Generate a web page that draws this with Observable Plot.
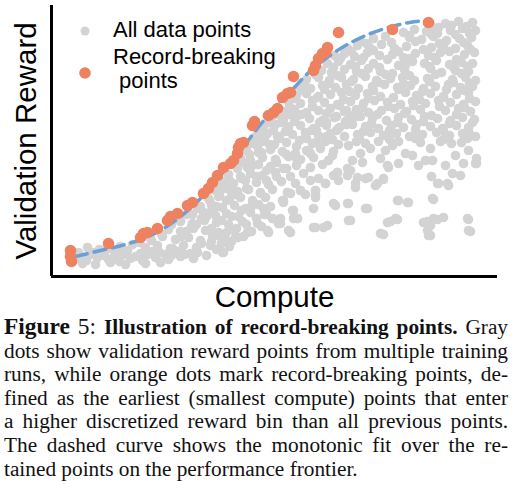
<!DOCTYPE html>
<html><head><meta charset="utf-8">
<script src="https://cdn.jsdelivr.net/npm/d3@7"></script>
<script src="https://cdn.jsdelivr.net/npm/@observablehq/plot@0.6"></script>
<style>
body{margin:0;background:#fff;width:525px;}
#wrap{position:relative;width:525px;height:310px;}
#legend{position:absolute;left:0;top:0;pointer-events:none;}
#caption{font-family:"Liberation Serif",serif;font-size:21.3px;line-height:23.6px;margin:5px 0 0 4px;width:504px;color:#111;}
.ln{text-align:justify;text-align-last:justify;}
.ln.last{text-align-last:left;}
.fig{font-weight:bold;font-size:1.1em;}
.fn{font-size:1.1em;}
</style></head>
<body>
<div id="wrap"><div id="chart"></div>
<svg id="legend" width="525" height="310" font-family="Liberation Sans, Arial, sans-serif" font-size="22">
<circle cx="85" cy="31" r="4.5" fill="#d3d3d3"/>
<text x="113" y="37" fill="#000">All data points</text>
<circle cx="85" cy="73" r="5.8" fill="#ee8260"/>
<text x="113" y="64" fill="#000">Record-breaking</text>
<text x="113" y="88" fill="#000" xml:space="preserve"> points</text>
</svg></div>
<div id="caption">
<div class="ln"><span class="fig">Figure</span> <span class="fn">5:</span> <b>Illustration of record-breaking points.</b> Gray</div>
<div class="ln">dots show validation reward points from multiple training</div>
<div class="ln">runs, while orange dots mark record-breaking points, de-</div>
<div class="ln">fined as the earliest (smallest compute) points that enter</div>
<div class="ln">a higher discretized reward bin than all previous points.</div>
<div class="ln">The dashed curve shows the monotonic fit over the re-</div>
<div class="ln last">tained points on the performance frontier.</div>
</div>
<script>
// Axis labels
const xLabel = "Compute";
const yLabel = "Validation Reward";

// All data points: [compute, validation reward] (arbitrary units)
const grayPoints = [
[394,253],[407,255],[421,254],[387,249],
[352,244],[363,247],[375,245],[386,243],[399,246],[411,248],[424,246],
[309,235],[322,238],[334,240],[358,239],[370,237],[382,240],[395,236],[408,238],[420,239],
[296,228],[306,231],[318,229],[330,232],[343,228],[355,230],[380,229],[392,231],[404,228],[416,231],
[283,221],[293,223],[303,220],[316,224],[328,221],[341,222],[352,219],[364,223],[377,221],[389,224],[413,222],[423,224],
[276,213],[287,215],[299,212],[310,216],[322,213],[347,211],[361,215],[373,213],[385,216],[398,212],[410,214],[421,213],
[270,206],[280,204],[293,207],[305,205],[317,208],[329,205],[341,203],[353,207],[379,208],[390,204],[404,206],[417,205],
[255,197],[267,199],[278,196],[290,199],[302,197],[314,200],[325,196],[339,198],[351,199],[363,196],[376,198],[401,197],[414,199],[424,196],
[248,190],[259,188],[271,191],[284,189],[295,192],[307,188],[321,190],[333,192],[346,189],[359,191],[372,188],[384,190],[397,192],[409,189],[421,190],
[245,181],[255,183],[267,180],[279,182],[290,184],[304,181],[316,183],[329,180],[354,184],[365,181],[379,183],[392,180],[405,182],[417,184],
[237,175],[249,173],[261,176],[273,174],[286,172],[299,175],[312,173],[323,176],[336,174],[349,172],[361,175],[374,173],[387,176],[399,174],[412,172],[424,175],
[232,165],[243,167],[255,164],[267,166],[279,168],[293,165],[305,167],[317,164],[330,166],[343,168],[355,165],[369,167],[394,166],[407,168],[419,165],
[220,159],[232,157],[245,160],[258,158],[271,156],[283,159],[297,157],[309,160],[321,158],[335,156],[347,159],[360,157],[373,160],[386,158],[399,156],[411,159],[423,157],
[212,150],[224,152],[237,149],[249,151],[262,148],[275,151],[288,149],[301,152],[314,150],[327,148],[340,151],[352,149],[365,152],[379,150],[391,148],[405,151],[417,149],
[205,141],[216,143],[228,140],[241,142],[254,144],[267,141],[279,143],[293,140],[306,142],[319,144],[332,141],[345,143],[358,140],[371,142],[385,144],[398,141],[411,143],[424,140],
[380,250],[400,251],[415,250],
[358,241],[380,242],[404,242],[418,243],
[315,233],[340,234],[364,235],[388,233],[412,234],
[300,225],[322,226],[347,225],[372,227],[398,225],[419,227],
[289,218],[312,219],[336,217],[358,218],[383,219],[405,217],
[282,209],[304,210],[328,209],[354,211],[378,210],[402,209],[416,210],
[264,202],[286,201],[310,203],[334,202],[358,201],[384,202],[410,203],
[253,194],[277,193],[300,195],[327,194],[352,193],[378,195],[402,194],[418,193],
[252,186],[273,187],[298,185],[322,186],[347,187],[371,185],[395,187],[413,186],
[243,178],[266,179],[292,177],[317,178],[342,179],[368,177],[392,179],[418,178],
[238,170],[261,170],[288,171],[311,169],[337,170],[362,171],[388,170],[413,169],
[226,162],[250,162],[275,163],[302,161],[326,162],[353,163],[380,161],[405,162],
[218,154],[243,155],[268,154],[294,155],[320,153],[346,154],[372,155],[398,153],[421,154],
[210,146],[234,145],[260,146],[286,147],[312,145],[338,146],[364,147],[392,146],[417,145],
[202,137],[228,138],[254,139],[281,137],[308,138],[338,137],[364,138],[392,137],[416,138],
[199,133],[211,135],[223,132],[235,134],[248,136],[261,133],[274,135],[287,132],
[195,126],[207,124],[219,127],[231,125],[244,123],[257,126],[269,128],[282,125],
[189,118],[199,116],[211,119],[224,117],[237,120],[249,117],[262,119],[277,116],
[185,111],[196,109],[207,112],[219,110],[232,108],[245,111],[259,109],[271,112],[286,104],
[177,102],[189,100],[199,103],[211,101],[224,104],[239,100],[252,103],[267,98],[282,101],
[171,95],[182,93],[194,96],[205,94],[217,92],[230,95],[244,93],[259,96],[274,93],
[164,86],[175,88],[186,85],[197,87],[209,84],[221,87],[236,84],[249,86],[264,86],
[157,78],[167,80],[178,77],[189,79],[201,76],[214,79],[232,76],[254,82],[264,79],
[149,70],[160,72],[171,69],[183,71],[194,68],[207,72],[219,70],[241,66],
[141,62],[152,64],[164,61],[175,63],[187,60],[199,64],[213,62],[229,58],[246,58],
[129,55],[141,53],[153,56],[165,54],[177,52],[191,55],[206,53],[221,58],
[117,47],[129,45],[142,48],[154,46],[167,44],[181,47],[196,44],
[99,38],[111,40],[124,37],[137,39],[149,36],[161,40],[174,37],[186,39],
[69,30],[81,32],[94,29],[106,31],[119,28],[132,31],[145,29],[159,31],
[36,29],[48,27],[58,28],
[27,24],[39,22],[51,25],[64,23],[76,26],[89,23],[101,25],[114,22],[127,25],[139,23],[171,24],
[25,18],[35,16],[46,19],[57,17],[68,15],[79,18],[91,16],[104,19],[117,17],[129,20],[142,18],
[31,13],[44,12],[59,14],[74,12],[94,13],[109,14],
[30,20],[42,24],[53,21],[62,19],[72,22],[84,20],[96,22],[108,24],[120,21],[133,22],[146,24],[155,21],[165,27],[178,30],
[150,33],[160,35],[170,33],[180,35],[192,40],[200,45],[210,50],[185,48],[175,44],[195,52],[205,58],[215,62],
[160,48],[170,56],[180,60],[190,66],[200,70],[135,45],[145,52],[155,60],[165,70],[175,76],[185,82],[195,88],
[205,100],[215,106],[225,114],[235,122],[245,130],[255,138],[265,146],[275,154],[285,160],[295,166],
[215,96],[225,100],[235,108],[245,118],[255,126],[265,134],[275,140],[285,146],[295,152],[305,160],
[120,52],[135,62],[146,68],[158,76],[170,90],[178,96],[186,108],[192,114],[198,122],[206,130],[213,138],[222,146],[230,154],[238,162],
[110,42],[100,36],[88,34],[130,40],[140,50],[150,58],[160,66],[168,82],[180,84],[190,98],[200,110],[210,124],[218,132],[226,140],[236,150],
[121,28],[184,39],[216,46],[227,53],[237,46],[242,58],[262,68],[262,49],[272,49],[282,73],[296,73],[297,56],[314,68],[329,43],[336,54],
[344,58],[346,76],[356,74],[372,54],[376,46],[377,41],[382,58],[392,59],[381,78],[416,58],[417,46],[212,68],[209,83],[236,84],[231,76],
[242,66],[239,44],[264,81],[274,93],[287,96],[304,93],[296,108],[306,99],[317,99],[326,93],[332,98],[336,111],[347,113],[386,93],[396,93],
[401,103],[409,101],[425,113],
[341,131],[319,128],[309,123],[354,123],[361,121],[400,133],[417,126],[404,121],[329,118],[374,116],[381,116],[425,118],[337,109],[367,111],
[394,111],[412,113],[424,113],[299,106],[380,100],[314,98],[332,97],[304,89],[324,91],[387,93],[397,91],[347,76],[357,74],[382,77],[297,73],
[316,68],[299,56],[339,55],[346,57],[376,55],[379,51],[386,57],[417,57],[332,42],[379,41],[419,45],
[297,131],[305,135],[314,133],[327,135],[334,126],[301,116],[311,114],[347,135],[369,134],[379,128],[389,135],[410,134],[296,101],
[259,123],[281,121],[286,104],[264,86],[249,86],[239,83],[232,74],[214,66],[221,58],[229,53],[246,58],[217,44],[264,49],[276,51],[284,71],
[172,24],[186,39],[166,41]
];

// Record-breaking points
const recordCompute = [19,19,20,57,89,92,96,106,116,119,126,136,141,152,157,161,166,172,179,182,186,187,189,192,201,203,217,222,226,231,236,239,242,262,264,267,271,274,276,287,341,377];
const recordReward  = [26,20,15,33,39,43,44,48,56,60,63,71,74,83,88,94,101,109,113,116,123,129,133,134,151,155,161,164,168,179,183,184,200,206,211,218,223,224,229,244,247,254];

// Monotonic fit (dashed curve)
const fitCompute = [24,49,74,99,124,149,169,189,209,229,242,254,269,294,319,344,364,379];
const fitReward  = [20,26,32,41,56,78,101,126,152,176,188,201,214,231,243,251,255,256];

const gray = grayPoints.map(([c, r]) => ({c, r}));
const record = recordCompute.map((c, i) => ({c, r: recordReward[i]}));
const fit = fitCompute.map((c, i) => ({c, r: fitReward[i]}));

const chart = Plot.plot({
  width: 525,
  height: 310,
  marginLeft: 51,
  marginRight: 28,
  marginTop: 5,
  marginBottom: 34,
  x: {domain: [0, 446], axis: null},
  y: {domain: [0, 271], axis: null},
  style: {fontFamily: "Liberation Sans, Arial, sans-serif", background: "white", overflow: "visible"},
  marks: [
    Plot.dot(gray, {x: "c", y: "r", r: 4.8, fill: "#d3d3d3", stroke: "none"}),
    Plot.line(fit, {x: "c", y: "r", curve: "catmull-rom", stroke: "#6c9fd6", strokeWidth: 3.5, strokeDasharray: "12,7"}),
    Plot.dot(record, {x: "c", y: "r", r: 5.8, fill: "#ee8260", stroke: "none"}),
    Plot.ruleX([0], {stroke: "#000", strokeWidth: 3}),
    Plot.ruleY([0], {stroke: "#000", strokeWidth: 3}),
    Plot.text([xLabel], {text: d => d, frameAnchor: "bottom", dy: 30, lineAnchor: "bottom", textAnchor: "middle", fontSize: 29.5, fill: "#000"}),
    Plot.text([yLabel], {text: d => d, frameAnchor: "left", rotate: -90, dx: -16, lineAnchor: "bottom", textAnchor: "middle", fontSize: 29.5, fill: "#000"})
  ]
});
document.getElementById("chart").appendChild(chart);
</script>
</body></html>
